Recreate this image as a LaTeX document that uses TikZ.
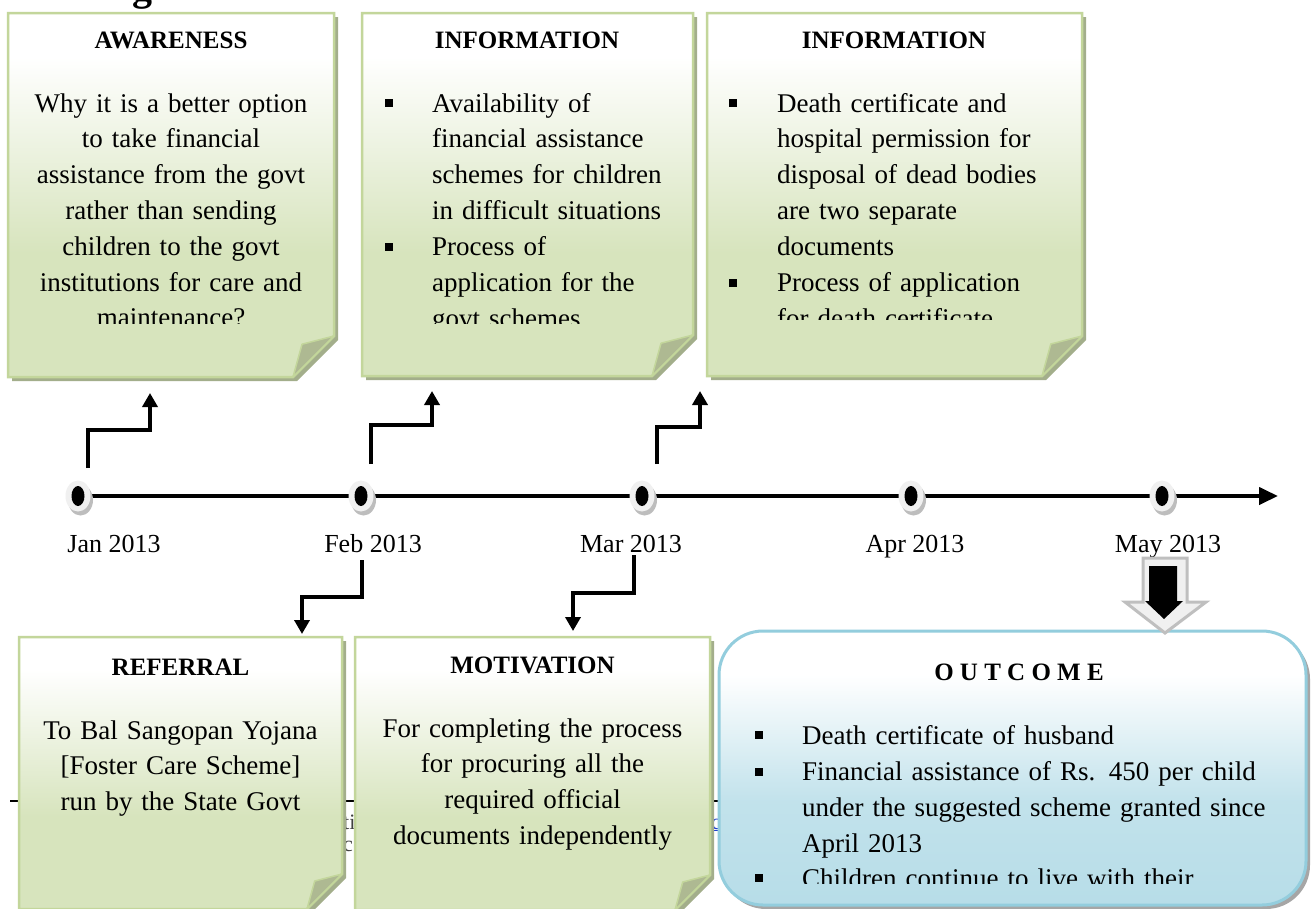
\documentclass[tikz,border=0pt]{standalone}
\usepackage{fontspec}
\setmainfont{Liberation Serif}
\usetikzlibrary{arrows.meta}

% palette
\definecolor{nborder}{HTML}{C3D69B}
\definecolor{ngreen}{HTML}{D7E4BD}
\definecolor{nfold}{HTML}{AEB992}
\definecolor{nshadow}{HTML}{A3AE8B}
\definecolor{oborder}{HTML}{93CDDD}
\definecolor{oblue}{HTML}{B7DDE8}
\definecolor{dotgray}{HTML}{F0F0F0}
\definecolor{dotshade}{HTML}{BDBDBD}
\definecolor{linkblue}{HTML}{1F3FD0}

\pgfdeclareverticalshading{notegrad}{100bp}{color(0bp)=(ngreen); color(25bp)=(ngreen); color(42bp)=(ngreen); color(69bp)=(white); color(100bp)=(white)}
\pgfdeclareverticalshading{outgrad}{100bp}{color(0bp)=(oblue); color(25bp)=(oblue); color(44bp)=(oblue!85!white); color(67bp)=(white); color(100bp)=(white)}

\newcommand{\bodyfont}{\fontsize{27}{35.8}\selectfont}
\newcommand{\titlefont}{\fontsize{25}{29}\selectfont\bfseries}
\newcommand{\datefont}{\fontsize{26}{30}\selectfont}

% folded note: left, top, right, bottom, fold size
\newcommand{\notepaper}[5]{%
  \fill[nshadow] (#1+4,#2+4) -- (#3+4,#2+4) -- (#3+4,#4-#5+4) -- (#3-#5+4,#4+4) -- (#1+4,#4+4) -- cycle;
  \shade[shading=notegrad, draw=nborder, line width=2.5]
    (#1,#2) -- (#3,#2) -- (#3,#4-#5) -- (#3-#5,#4) -- (#1,#4) -- cycle;
  \filldraw[fill=nfold, draw=nborder, line width=1.5, line join=round]
    (#3-#5,#4) -- (#3-0.78*#5,#4-0.8*#5) -- (#3,#4-#5) -- cycle;
}

\newcommand{\timedot}[1]{%
  \fill[dotshade] ($(#1)+(2.5,4)$) ellipse [x radius=12.5, y radius=15.5];
  \fill[dotgray] (#1) ellipse [x radius=12.5, y radius=15.5];
  \fill[black] (#1) ellipse [x radius=6.5, y radius=10];
}

\begin{document}
\begin{tikzpicture}[x=1pt, y=-1pt,
  conn/.style={line width=4, line join=miter, -{Triangle[width=15,length=14]}},
  body/.style={inner sep=0, font=\bodyfont},
  boxtitle/.style={inner sep=0, font=\titlefont, anchor=base},
  datelabel/.style={inner sep=0, font=\datefont, anchor=base},
  bullet/.style={fill=black, minimum size=8, inner sep=0},
]
\usetikzlibrary{calc}
\useasboundingbox (0,0) rectangle (1312,908);
\fill[white] (0,0) rectangle (1312,908);

% page material showing behind the boxes
\node[inner sep=0, anchor=base, font=\fontsize{40}{40}\selectfont\bfseries] (pagehead) at (142,0) {g};
\draw[line width=2] (10,801) -- (720,801);
\node[inner sep=0, anchor=base west, font=\fontsize{22}{24}\selectfont, text=black!75] (pagetxt1) at (343,829) {ti};
\node[inner sep=0, anchor=base west, font=\fontsize{22}{24}\selectfont, text=black!75] (pagetxt2) at (343,851) {c};
\node[inner sep=0, anchor=base west, font=\fontsize{22}{24}\selectfont, text=linkblue] (pagelink) at (711,829) {\underline{c}};

% ---------- upper notes ----------
\notepaper{8}{13}{334}{377}{41}
\notepaper{362}{13}{693}{376}{41}
\notepaper{707}{13}{1082}{376}{40}

\node[boxtitle] (awtitle) at (171,48.5) {AWARENESS};
\node[boxtitle] (info1title) at (527,48.5) {INFORMATION};
\node[boxtitle] (info2title) at (894,48.5) {INFORMATION};

\begin{scope}
  \clip (10,60) rectangle (332,323);
  \node[body, text width=320, align=center, anchor=base] (awtext) at (171,112)
    {Why it is a better option\\to take financial\\assistance from the govt\\rather than sending\\children to the govt\\institutions for care and\\maintenance?};
\end{scope}

\begin{scope}
  \clip (364,60) rectangle (691,323);
  \node[bullet] (b11) at (389,103) {};
  \node[body, text width=255, align=left, anchor=base west] (info1a) at (432,112)
    {Availability of\\financial assistance\\schemes for children\\in difficult situations};
  \node[bullet] (b12) at (389,247) {};
  \node[body, text width=255, align=left, anchor=base west] (info1b) at (432,255.5)
    {Process of\\application for the\\govt schemes};
\end{scope}

\begin{scope}
  \clip (709,60) rectangle (1080,319);
  \node[bullet] (b21) at (733,103) {};
  \node[body, text width=300, align=left, anchor=base west] (info2a) at (777,112)
    {Death certificate and\\hospital permission for\\disposal of dead bodies\\are two separate\\documents};
  \node[bullet] (b22) at (733,283) {};
  \node[body, text width=300, align=left, anchor=base west] (info2b) at (777,291.5)
    {Process of application\\for death certificate};
\end{scope}

% ---------- time line ----------
\coordinate (jan) at (78,496);
\coordinate (feb) at (361,496);
\coordinate (mar) at (642,496);
\coordinate (apr) at (911,496);
\coordinate (may) at (1162,496);
\coordinate (lineend) at (1278,496);
\draw[line width=4, -{Triangle[width=17,length=19]}] (jan) -- (lineend);
\timedot{jan}
\timedot{feb}
\timedot{mar}
\timedot{apr}
\timedot{may}

\node[datelabel] (janlab) at (114,552) {Jan 2013};
\node[datelabel] (feblab) at (373,552) {Feb 2013};
\node[datelabel] (marlab) at (631,552) {Mar 2013};
\node[datelabel] (aprlab) at (915,552) {Apr 2013};
\node[datelabel] (maylab) at (1168,552) {May 2013};

% elbow connectors
\coordinate (janS) at (88,468);   \coordinate (awT) at (150,393);
\coordinate (febS) at (371,464);  \coordinate (info1T) at (432,391);
\coordinate (marS) at (657,464);  \coordinate (info2T) at (700,391);
\coordinate (febD) at (362,560);  \coordinate (refT) at (302,634);
\coordinate (marD) at (634,555);  \coordinate (motT) at (573,631);
\draw[conn] (janS) -- ++(0,-38) -| (awT);
\draw[conn] (febS) -- ++(0,-39) -| (info1T);
\draw[conn] (marS) -- ++(0,-37) -| (info2T);
\draw[conn] (febD) -- ++(0,37) -| (refT);
\draw[conn] (marD) -- ++(0,38) -| (motT);

% ---------- lower notes ----------
\notepaper{19}{637}{342}{909}{35}
\notepaper{355}{637}{710}{910}{35}

\node[boxtitle] (reftitle) at (180.5,675) {REFERRAL};
\node[boxtitle] (mottitle) at (532.5,673) {MOTIVATION};
\node[body, text width=315, align=center, anchor=base] (reftext) at (180.5,739)
  {To Bal Sangopan Yojana\\{[}Foster Care Scheme{]}\\run by the State Govt};
\node[body, text width=345, align=center, anchor=base] (mottext) at (532.5,737)
  {For completing the process\\for procuring all the\\required official\\documents independently};

% ---------- outcome ----------
\fill[black!35, rounded corners=44] (722,635) rectangle (1310,909);
\shade[shading=outgrad, draw=oborder, line width=3, rounded corners=44] (719,631) rectangle (1306,905);
\node[boxtitle] (outtitle) at (1019,680) {O U T C O M E};
\begin{scope}
  \clip (722,700) rectangle (1300,883);
  \node[bullet] (ob1) at (759,735) {};
  \node[body, text width=500, align=left, anchor=base west] (out1) at (802,744)
    {Death certificate of husband};
  \node[bullet] (ob2) at (759,772) {};
  \node[body, text width=500, align=left, anchor=base west] (out2) at (802,780.5)
    {Financial assistance of Rs. 450 per child\\under the suggested scheme granted since\\April 2013};
  \node[bullet] (ob3) at (759,878) {};
  \node[body, text width=500, align=left, anchor=base west] (out3) at (802,887)
    {Children continue to live with their};
\end{scope}

% block arrow from May to the outcome
\filldraw[fill=dotgray, draw=black!25, line width=3, line join=miter]
  (1143,558) -- (1187,558) -- (1187,602) -- (1206,602) -- (1165,633) -- (1125,602) -- (1143,602) -- cycle;
\fill[black] (1149,566) -- (1177,566) -- (1177,601) -- (1183,601) -- (1164,619) -- (1145,601) -- (1149,601) -- cycle;
\end{tikzpicture}
\end{document}
